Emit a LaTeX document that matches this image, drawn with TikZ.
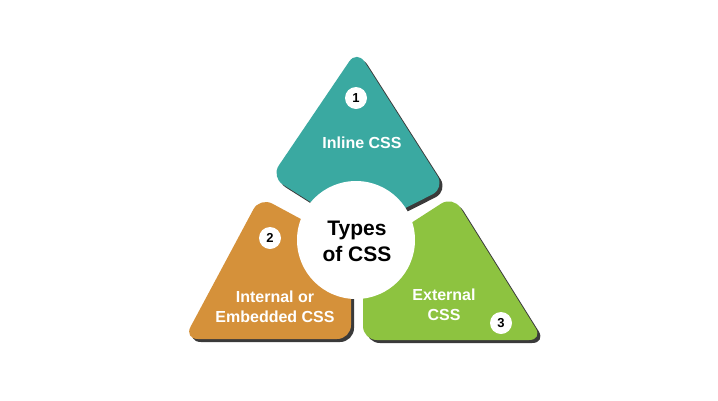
\documentclass[tikz,border=0pt]{standalone}
\usepackage{fontspec}
\setmainfont{Liberation Sans}
\definecolor{tealA}{HTML}{3AA9A1}
\definecolor{orangeA}{HTML}{D5913A}
\definecolor{greenA}{HTML}{8DC340}
\definecolor{shadowA}{HTML}{3A3A3A}
\begin{document}
\begin{tikzpicture}[x=1pt,y=-1pt,
  piece/.style={rounded corners=14pt},
  num/.style={circle, fill=white, minimum size=22pt, inner sep=0pt, font=\bfseries\fontsize{13}{13}\selectfont},
  lbl/.style={text=white, font=\bfseries\fontsize{16}{20}\selectfont, align=center}]
\useasboundingbox (0,0) rectangle (718,400);
\fill[white] (0,0) rectangle (718,400);
% shadows
\fill[shadowA, piece, shift={(3,3)}] (357,50) -- (271,177) -- (358,232) -- (445,188) -- cycle;
\fill[shadowA, piece, shift={(3,3)}] (260,197) -- (184,339) -- (351,339) -- (351,246) -- cycle;
\fill[shadowA, piece, shift={(3,3)}] (453,196) -- (543,340) -- (363,340) -- (363,254) -- cycle;
% pieces
\fill[tealA, piece] (357,50) -- (271,177) -- (358,232) -- (445,188) -- cycle;
\fill[orangeA, piece] (260,197) -- (184,339) -- (351,339) -- (351,246) -- cycle;
\fill[greenA, piece] (453,196) -- (543,340) -- (363,340) -- (363,254) -- cycle;
% hub
\node[circle, fill=white, minimum size=118pt, inner sep=0pt] (hub) at (356,240) {};
\node[font=\bfseries\fontsize{21}{26}\selectfont, align=center] (title) at (357,241) {Types\\of CSS};
% numbers
\node[num] (n1) at (356,98) {1};
\node[num] (n2) at (270,238) {2};
\node[num] (n3) at (501,323) {3};
% labels
\node[lbl] (l1) at (362,143) {Inline CSS};
\node[lbl] (l2) at (275,307) {Internal or\\Embedded CSS};
\node[lbl] (l3) at (444,305) {External\\CSS};
\end{tikzpicture}
\end{document}
